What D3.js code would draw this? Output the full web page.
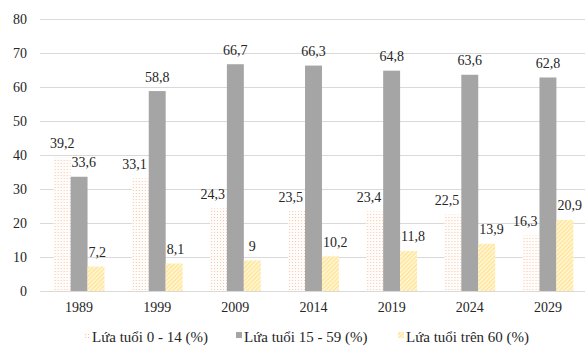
<!DOCTYPE html>
<html>
<head>
<meta charset="utf-8">
<script src="https://cdn.jsdelivr.net/npm/d3@7"></script>
<style>
  html, body { margin: 0; padding: 0; background: #fff; }
  svg text { font-family: "Liberation Serif", "Times New Roman", serif; fill: #262626; }
</style>
</head>
<body>
<svg id="chart" width="587" height="351"></svg>
<script>
// Cơ cấu dân số theo nhóm tuổi (%)
const years = ["1989", "1999", "2009", "2014", "2019", "2024", "2029"];
const age0to14 = [39.2, 33.1, 24.3, 23.5, 23.4, 22.5, 16.3];
const age15to59 = [33.6, 58.8, 66.7, 66.3, 64.8, 63.6, 62.8];
const age60plus = [7.2, 8.1, 9, 10.2, 11.8, 13.9, 20.9];
const seriesNames = ["Lứa tuổi 0 - 14 (%)", "Lứa tuổi 15 - 59 (%)", "Lứa tuổi trên 60 (%)"];
const yTicks = [0, 10, 20, 30, 40, 50, 60, 70, 80];

const series = [age0to14, age15to59, age60plus];
const fills = ["url(#dots)", "#a5a5a5", "url(#hatch)"];
const FONT = "'Liberation Serif', 'Times New Roman', serif";

const svg = d3.select("#chart");
const margin = { left: 40, right: 0, top: 19 };
const W = 587;

// patterns: dotted peach and diagonal yellow hatch
const defs = svg.append("defs");
const dots = defs.append("pattern").attr("id", "dots")
  .attr("patternUnits", "userSpaceOnUse").attr("width", 3).attr("height", 3);
dots.append("rect").attr("width", 3).attr("height", 3).attr("fill", "#fffdfb");
dots.append("rect").attr("x", 1).attr("y", 1).attr("width", 1).attr("height", 1).attr("fill", "#f7c6a6");

const hatch = defs.append("pattern").attr("id", "hatch")
  .attr("patternUnits", "userSpaceOnUse").attr("width", 3).attr("height", 3)
  .attr("patternTransform", "rotate(45)");
hatch.append("rect").attr("width", 3).attr("height", 3).attr("fill", "#fff8e0");
hatch.append("rect").attr("width", 1.4).attr("height", 3).attr("fill", "#ffe38c");

const x0 = d3.scaleBand().domain(years)
  .range([margin.left, W - margin.right])
  .paddingInner(0.35).paddingOuter(0.175);
const x1 = d3.scaleBand().domain(d3.range(series.length)).range([0, x0.bandwidth()]);
const y = d3.scaleLinear().domain([0, 80]).range([291, margin.top]);

// gridlines
svg.append("g").selectAll("line").data(yTicks).join("line")
  .attr("x1", margin.left).attr("x2", W - 2)
  .attr("y1", d => Math.round(y(d)) + 0.5).attr("y2", d => Math.round(y(d)) + 0.5)
  .attr("stroke", "#d9d9d9").attr("stroke-width", 1);

// y axis labels
const yAxis = d3.axisLeft(y).tickValues(yTicks).tickSize(0).tickPadding(0);
svg.append("g").attr("transform", "translate(27,0)").call(yAxis)
  .attr("font-family", FONT)
  .call(g => g.select(".domain").remove())
  .call(g => g.selectAll("text").attr("font-size", 14).attr("fill", "#404040"));

// x axis labels
const xAxis = d3.axisBottom(x0).tickSize(0).tickPadding(0);
svg.append("g").attr("transform", "translate(0,302)").call(xAxis)
  .attr("font-family", FONT)
  .call(g => g.select(".domain").remove())
  .call(g => g.selectAll("text").attr("font-size", 14).attr("fill", "#404040"));

// bars
const groups = svg.append("g").selectAll("g").data(years).join("g")
  .attr("transform", d => `translate(${x0(d)},0)`);

groups.each(function (yr, i) {
  const g = d3.select(this);
  series.forEach((s, k) => {
    g.append("rect")
      .attr("x", x1(k)).attr("width", x1.bandwidth())
      .attr("y", y(s[i])).attr("height", y(0) - y(s[i]))
      .attr("fill", fills[k]);
  });
});

// value labels, nudged away from a taller neighbouring bar
const fmt = v => String(v).replace(".", ",");
groups.each(function (yr, i) {
  const g = d3.select(this);
  series.forEach((s, k) => {
    const v = s[i];
    const cx = x1(k) + x1.bandwidth() / 2;
    const t = g.append("text")
      .attr("x", cx).attr("y", y(v) - 9.5)
      .attr("text-anchor", "middle").attr("font-size", 14)
      .attr("font-family", FONT)
      .text(fmt(v));
    const half = t.node().getComputedTextLength() / 2;
    let dx = 0;
    if (k < series.length - 1 && y(series[k + 1][i]) < y(v) - 6) {
      const over = (cx + half) - (x1(k) + x1.bandwidth()) + 2;
      if (over > 0) dx -= over;
    }
    if (k > 0 && y(series[k - 1][i]) < y(v) - 6) {
      const over = x1(k) - (cx - half) + 1;
      if (over > 0) dx += over;
    }
    t.attr("x", cx + dx);
  });
});

// legend
const legend = svg.append("g").attr("transform", "translate(0,342)");
const legendX = [84, 236, 398];
seriesNames.forEach((name, k) => {
  const item = legend.append("g").attr("transform", `translate(${legendX[k]},0)`);
  item.append("rect").attr("x", 0).attr("y", -10).attr("width", 6).attr("height", 6)
    .attr("fill", fills[k]);
  item.append("text").attr("x", 8).attr("y", 0).attr("font-size", 15)
    .attr("font-family", FONT).text(name);
});
</script>
</body>
</html>
